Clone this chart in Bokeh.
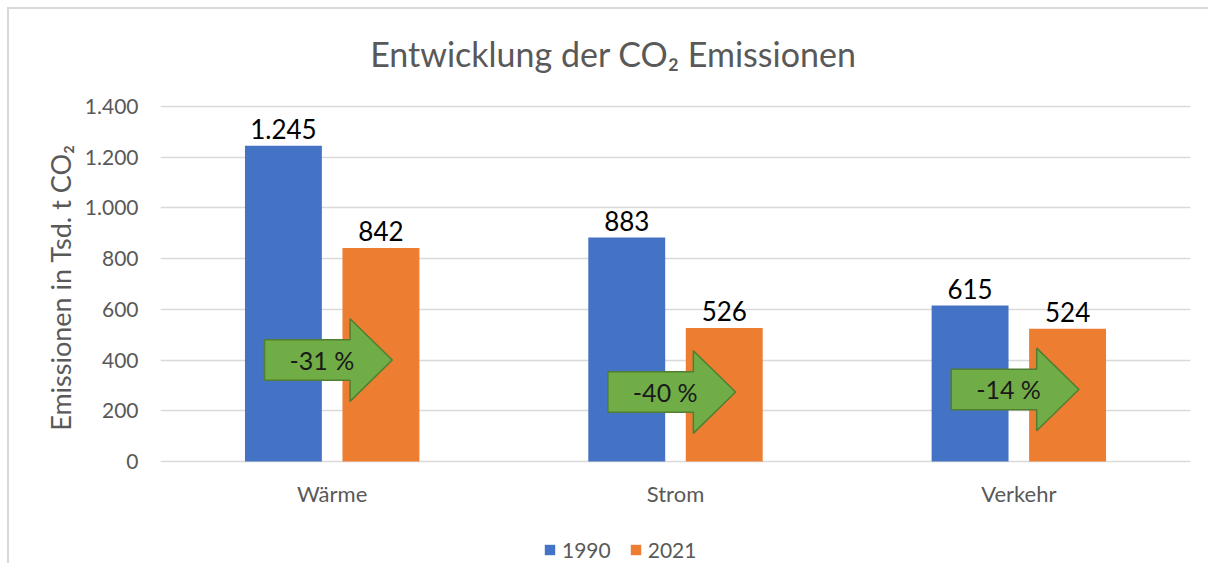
from bokeh.plotting import figure
from bokeh.models import (ColumnDataSource, Range1d, FixedTicker, Legend, LegendItem)
from bokeh.transform import dodge
from bokeh.core.properties import value
from bokeh.embed import file_html
from bokeh.resources import INLINE

# ---- data ----
title_text = "Entwicklung der CO₂ Emissionen"
categories = ["Wärme", "Strom", "Verkehr"]
years = ["1990", "2021"]
values_1990 = [1245, 883, 615]
values_2021 = [842, 526, 524]
change_labels = ["-31 %", "-40 %", "-14 %"]
arrow_levels = [400, 274, 284]
y_ticks = [0, 200, 400, 600, 800, 1000, 1200, 1400]
y_tick_labels = ["0", "200", "400", "600", "800", "1.000", "1.200", "1.400"]

BLUE = "#4472C4"
ORANGE = "#ED7D31"
GREY_TXT = "#595959"
GRID = "#D9D9D9"
FONT = "Lato"

def de(v):
    return f"{v:,}".replace(",", ".")

# geometry: 355 px for 0..1400, frame extended above (title) and below (labels, legend)
PX = 355 / 1400
Y_END = 1400 + 97 / PX
Y_START = -104 / PX

xc = [i + 0.5 for i in range(len(categories))]
src = ColumnDataSource(dict(
    x=xc, v1990=values_1990, v2021=values_2021,
    l1990=[de(v) for v in values_1990], l2021=[de(v) for v in values_2021],
))

p = figure(
    output_backend="svg", toolbar_location=None,
    width=1201, height=556,
    min_border_left=151, min_border_right=20, min_border_top=0, min_border_bottom=0,
    x_range=Range1d(0, 3), y_range=Range1d(Y_START, Y_END),
    x_axis_location=None,
)
p.styles = {"margin-left": "7px", "margin-top": "7px",
            "border-left": "2px solid #D9D9D9", "border-top": "2px solid #D9D9D9"}
p.outline_line_color = None
p.background_fill_color = "white"
p.border_fill_color = "white"

# title (drawn as text in the frame's upper part)
p.text(x=[1.319], y=[1609], text=[title_text], text_align="center", text_baseline="middle",
       text_font=value(FONT), text_font_size="34px", text_color=GREY_TXT)

OFF = 0.142
W = 0.224
r1 = p.vbar(x=dodge("x", -OFF, range=p.x_range), top="v1990", width=W, source=src,
            fill_color=BLUE, line_color=None)
r2 = p.vbar(x=dodge("x", OFF, range=p.x_range), top="v2021", width=W, source=src,
            fill_color=ORANGE, line_color=None)

# value labels
for col, off in (("l1990", -OFF), ("l2021", OFF)):
    p.text(x=dodge("x", off, range=p.x_range), y="v" + col[1:], text=col, source=src,
           text_align="center", text_baseline="bottom", y_offset=-7,
           text_font=value(FONT), text_font_size="26px", text_color="#000000")

# arrows
BODY_L, HEAD_X, TIP_X = -0.197, 0.052, 0.175
BODY_H, HEAD_H = 80, 163
axs, ays = [], []
for c, yl in zip(xc, arrow_levels):
    axs.append([c + BODY_L, c + HEAD_X, c + HEAD_X, c + TIP_X, c + HEAD_X, c + HEAD_X, c + BODY_L])
    ays.append([yl + BODY_H, yl + BODY_H, yl + HEAD_H, yl, yl - HEAD_H, yl - BODY_H, yl - BODY_H])
p.patches(xs=axs, ys=ays, fill_color="#70AD47", line_color="#507E32", line_width=1.5)
p.text(x=[c - 0.03 for c in xc], y=arrow_levels, text=change_labels,
       text_align="center", text_baseline="middle",
       text_font=value(FONT), text_font_size="25px", text_color="#1a1a1a")

# category labels under the zero line
p.text(x=xc, y=[0] * len(xc), text=categories, text_align="center", text_baseline="middle",
       y_offset=32, text_font=value(FONT), text_font_size="22px", text_color=GREY_TXT)

# y axis
p.yaxis.ticker = FixedTicker(ticks=y_ticks)
p.yaxis.major_label_overrides = {t: l for t, l in zip(y_ticks, y_tick_labels)}
p.yaxis.major_tick_line_color = None
p.yaxis.minor_tick_line_color = None
p.yaxis.axis_line_color = None
p.yaxis.major_label_standoff = 16
p.yaxis.major_label_text_font = FONT
p.yaxis.major_label_text_font_size = "21px"
p.yaxis.major_label_text_color = GREY_TXT
p.yaxis.axis_label = "Emissionen in Tsd. t CO₂"
p.yaxis.axis_label_text_font = FONT
p.yaxis.axis_label_text_font_style = "normal"
p.yaxis.axis_label_text_font_size = "27px"
p.yaxis.axis_label_text_color = GREY_TXT
p.yaxis.axis_label_standoff = 5

p.xgrid.grid_line_color = None
p.ygrid.grid_line_color = GRID
p.ygrid.grid_line_width = 1.5

legend = Legend(items=[LegendItem(label=years[0], renderers=[r1]),
                       LegendItem(label=years[1], renderers=[r2])],
                orientation="horizontal", location=(383, 3))
legend.border_line_color = None
legend.background_fill_alpha = 0
legend.padding = 4
legend.margin = 0
legend.glyph_width = 13
legend.glyph_height = 13
legend.label_text_font = FONT
legend.label_text_font_size = "21px"
legend.label_text_color = GREY_TXT
legend.label_standoff = 6
legend.spacing = 18
p.add_layout(legend, "center")

open("out.html", "w").write(file_html(p, INLINE))
